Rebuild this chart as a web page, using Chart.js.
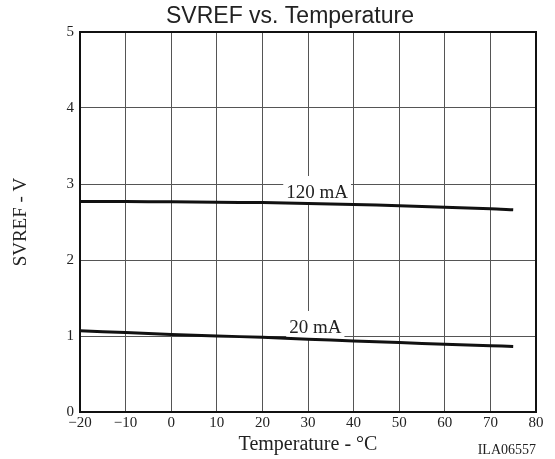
<!DOCTYPE html>
<html>
<head>
<meta charset="utf-8">
<script src="https://cdn.jsdelivr.net/npm/chart.js@4"></script>
<style>
  html, body { margin: 0; padding: 0; background: #fff; }
</style>
</head>
<body>
<canvas id="chart" width="555" height="459"></canvas>
<script>
// curve readings, temperature in °C, SVREF in volts
const temps = [-20, -10, 0, 10, 20, 30, 40, 50, 60, 70, 75];
const svref120 = [2.77, 2.77, 2.765, 2.76, 2.755, 2.745, 2.73, 2.715, 2.695, 2.675, 2.66];
const svref20 = [1.07, 1.045, 1.02, 1.0, 0.983, 0.958, 0.935, 0.913, 0.892, 0.873, 0.862];

// inline curve labels, anchored in data units (text baseline centre)
const curveNames = ["120 mA", "20 mA"];
const labelTemps = [32, 31.6];
const labelVolts = [2.816, 1.04];

const chartTitle = "SVREF vs. Temperature";
const xTitle = "Temperature - °C";
const yTitle = "SVREF - V";
const figureCode = "ILA06557";

const serif = '"Liberation Serif", "Times New Roman", serif';
const sans = '"Liberation Sans", Arial, sans-serif';

const toPoints = values => values.map((v, i) => ({ x: temps[i], y: v }));

const curveLabels = {
  id: "curveLabels",
  beforeDatasetsDraw(chart) {
    const { ctx, scales: { x, y } } = chart;
    ctx.save();
    ctx.font = "19px " + serif;
    ctx.textAlign = "center";
    ctx.textBaseline = "alphabetic";
    curveNames.forEach((name, i) => {
      const px = x.getPixelForValue(labelTemps[i]);
      const py = y.getPixelForValue(labelVolts[i]);
      const w = ctx.measureText(name).width;
      ctx.fillStyle = "#fff";
      ctx.fillRect(px - w / 2 - 3, py - 22, w + 6, 29);
      ctx.fillStyle = "#222";
      ctx.fillText(name, px, py);
    });
    ctx.restore();
  }
};

const frameAndText = {
  id: "frameAndText",
  afterDraw(chart) {
    const { ctx, chartArea: a } = chart;
    ctx.save();
    ctx.strokeStyle = "#111";
    ctx.lineWidth = 2;
    ctx.strokeRect(a.left, a.top, a.right - a.left, a.bottom - a.top);

    ctx.fillStyle = "#222";
    ctx.font = "23px " + sans;
    ctx.textAlign = "center";
    ctx.textBaseline = "alphabetic";
    ctx.fillText(chartTitle, 290, 23);

    ctx.font = "14px " + serif;
    ctx.textAlign = "right";
    ctx.fillText(figureCode, a.right, 454);
    ctx.restore();
  }
};

new Chart(document.getElementById("chart"), {
  type: "line",
  data: {
    datasets: [
      { label: curveNames[0], data: toPoints(svref120) },
      { label: curveNames[1], data: toPoints(svref20) }
    ]
  },
  options: {
    responsive: false,
    animation: false,
    devicePixelRatio: 1,
    layout: { padding: { top: 32, right: 19, left: 0, bottom: 0 } },
    elements: {
      line: { borderColor: "#111", borderWidth: 3, tension: 0.3, fill: false },
      point: { radius: 0 }
    },
    plugins: {
      legend: { display: false },
      title: { display: false },
      tooltip: { enabled: false }
    },
    scales: {
      x: {
        type: "linear",
        min: -20,
        max: 80,
        afterFit: scale => { scale.height = 47; },
        grid: { color: "#555", lineWidth: 1, drawTicks: false },
        border: { color: "#111", width: 2 },
        ticks: {
          stepSize: 10,
          padding: 2,
          color: "#222",
          font: { family: serif, size: 15 },
          maxRotation: 0,
          callback: v => (v < 0 ? "\u2212" + Math.abs(v) : String(v))
        },
        title: {
          display: true,
          text: xTitle,
          color: "#222",
          font: { family: serif, size: 20 },
          padding: { top: 0, bottom: 2 }
        }
      },
      y: {
        min: 0,
        max: 5,
        afterFit: scale => { scale.width = 80; },
        grid: { color: "#555", lineWidth: 1, drawTicks: false },
        border: { color: "#111", width: 2 },
        ticks: {
          stepSize: 1,
          padding: 6,
          color: "#222",
          font: { family: serif, size: 15 }
        },
        title: {
          display: true,
          text: yTitle,
          color: "#222",
          font: { family: serif, size: 19 },
          padding: { top: 10, bottom: 0 }
        }
      }
    }
  },
  plugins: [curveLabels, frameAndText]
});
</script>
</body>
</html>
